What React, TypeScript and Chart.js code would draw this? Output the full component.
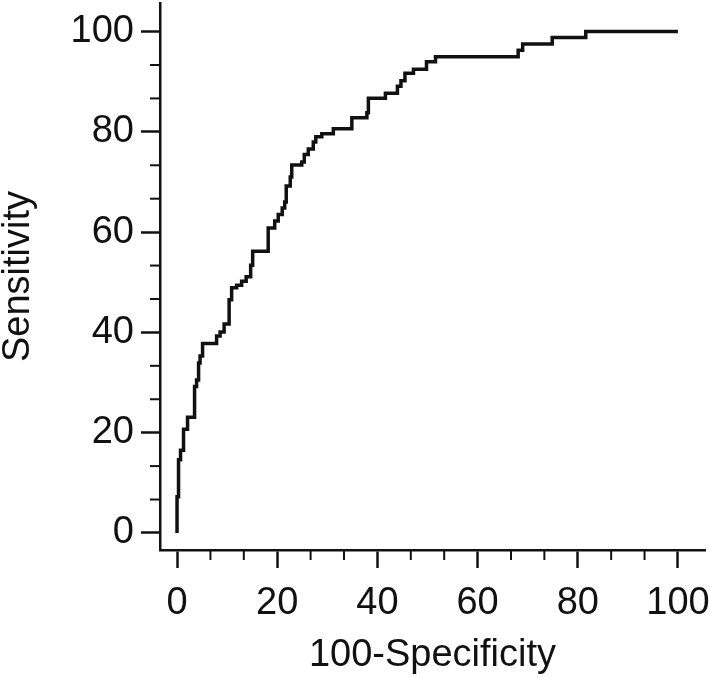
import React, { useEffect, useRef } from "react";
import { Chart, registerables } from "chart.js";

Chart.register(...registerables);

// ROC curve vertices (100-Specificity, Sensitivity)
const fpr = [
  0, 0, 0.3, 0.7, 1.3, 2.1, 3.5, 3.9, 4.3, 4.6, 5.1, 7.9, 8.6, 9.4, 10.4, 10.9,
  11.9, 12.9, 13.8, 14.7, 15.1, 18.2, 19.5, 20.2, 21.0, 21.5, 21.8, 22.6, 22.9,
  24.9, 25.4, 26.2, 27.2, 27.7, 28.9, 31.2, 34.9, 37.9, 38.2, 41.6, 44.0, 44.7,
  45.5, 47.2, 49.8, 51.6, 68.1, 69.0, 74.9, 81.6, 100,
];
const tpr = [
  0, 7.2, 14.6, 16.5, 20.7, 23.1, 29.2, 30.5, 33.9, 35.3, 37.8, 39.3, 40.1, 41.7,
  46.5, 48.9, 49.4, 50.2, 51.1, 53.4, 56.2, 60.8, 62.2, 63.5, 64.8, 66.0, 69.2,
  71.0, 73.4, 74.0, 75.5, 76.6, 78.0, 79.0, 79.6, 80.6, 82.8, 83.8, 86.7, 87.7,
  89.1, 90.2, 91.7, 92.5, 94.0, 95.0, 96.3, 97.5, 98.8, 100, 100,
];

const majorTicks = [0, 20, 40, 60, 80, 100];
const minorTicks = [6.667, 13.333, 26.667, 33.333, 46.667, 53.333, 66.667, 73.333, 86.667, 93.333];

const xTitle = "100-Specificity";
const yTitle = "Sensitivity";

const INK = "#111111";
const FONT = "'Liberation Sans', Arial, Helvetica, sans-serif";

const minorTickPlugin = {
  id: "minorTicks",
  afterDraw(chart: any) {
    const ctx = chart.ctx;
    const xs = chart.scales.x;
    const ys = chart.scales.y;
    const area = chart.chartArea;
    ctx.save();
    ctx.strokeStyle = INK;
    ctx.lineWidth = 2;
    minorTicks.forEach((v) => {
      const px = xs.getPixelForValue(v);
      ctx.beginPath();
      ctx.moveTo(px, area.bottom);
      ctx.lineTo(px, area.bottom + 10);
      ctx.stroke();
      const py = ys.getPixelForValue(v);
      ctx.beginPath();
      ctx.moveTo(area.left, py);
      ctx.lineTo(area.left - 10, py);
      ctx.stroke();
    });
    ctx.restore();
  },
};

export default function App() {
  const ref = useRef<HTMLCanvasElement>(null);

  useEffect(() => {
    if (!ref.current) return;
    const points = fpr.map((x, i) => ({ x, y: tpr[i] }));
    const chart = new Chart(ref.current, {
      type: "line",
      data: {
        datasets: [
          {
            data: points,
            stepped: true,
            borderColor: INK,
            borderWidth: 3.5,
            pointRadius: 0,
            fill: false,
            tension: 0,
          },
        ],
      },
      options: {
        responsive: false,
        animation: false,
        devicePixelRatio: 1,
        layout: { padding: { top: 3, right: 4, left: 0, bottom: 0 } },
        plugins: { legend: { display: false }, tooltip: { enabled: false } },
        scales: {
          x: {
            type: "linear",
            min: -3.4,
            max: 105.4,
            afterBuildTicks: (s: any) => {
              s.ticks = majorTicks.map((v) => ({ value: v }));
            },
            afterFit: (s: any) => {
              s.height = 128;
              s.paddingLeft = 0;
              s.paddingRight = 0;
            },
            grid: {
              display: true,
              drawOnChartArea: false,
              drawTicks: true,
              tickLength: 18,
              tickWidth: 2.5,
              tickColor: INK,
            },
            border: { display: true, width: 2.5, color: INK },
            ticks: {
              padding: 13,
              color: INK,
              font: { family: FONT, size: 38 },
              maxRotation: 0,
              autoSkip: false,
            },
            title: {
              display: true,
              text: xTitle,
              color: INK,
              font: { family: FONT, size: 38, lineHeight: 1 },
              padding: { top: 0, bottom: 3 },
            },
          },
          y: {
            type: "linear",
            min: -3.4,
            max: 105.7,
            afterBuildTicks: (s: any) => {
              s.ticks = majorTicks.map((v) => ({ value: v }));
            },
            afterFit: (s: any) => {
              s.width = 160;
              s.paddingTop = 0;
              s.paddingBottom = 0;
            },
            grid: {
              display: true,
              drawOnChartArea: false,
              drawTicks: true,
              tickLength: 19,
              tickWidth: 2.5,
              tickColor: INK,
            },
            border: { display: true, width: 2.5, color: INK },
            ticks: {
              padding: 7,
              color: INK,
              font: { family: FONT, size: 38 },
              autoSkip: false,
            },
            title: {
              display: true,
              text: yTitle,
              color: INK,
              font: { family: FONT, size: 38, lineHeight: 1 },
              padding: { top: 0, bottom: 0 },
            },
          },
        },
      },
      plugins: [minorTickPlugin],
    });
    return () => chart.destroy();
  }, []);

  return (
    <div style={{ position: "fixed", left: 0, top: 0, width: 709, height: 678, background: "#fff" }}>
      <canvas ref={ref} width={709} height={678} style={{ display: "block", width: 709, height: 678 }} />
    </div>
  );
}
